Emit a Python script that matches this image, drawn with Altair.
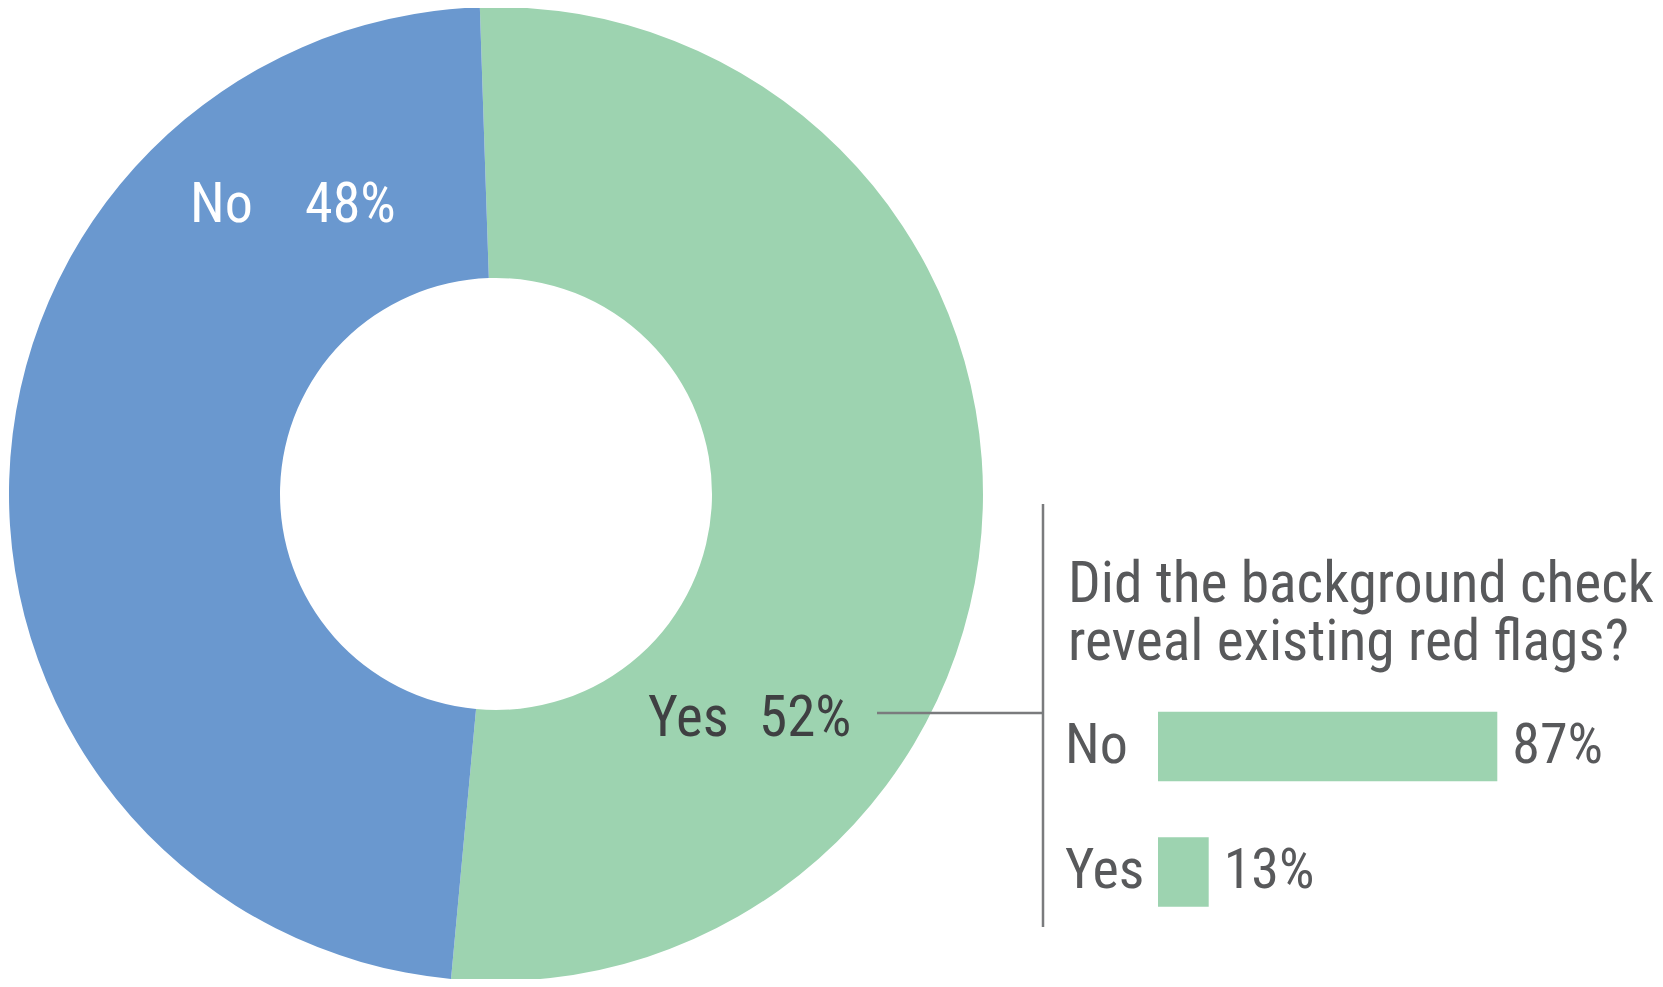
import math
import altair as alt
import pandas as pd

# ---- data ----
donut_labels = ["Yes", "No"]
donut_values = [52, 48]
donut_order = [0, 1]
bar_labels = ["No", "Yes"]
bar_values = [87, 13]
title_lines = ["Did the background check", "reveal existing red flags?"]

GREEN = "#9dd3b0"
BLUE = "#6a98cf"
DARK = "#3f4042"
GRAY = "#58595b"
RULE = "#7a7b7d"
FONT = "Liberation Sans Narrow, Roboto Condensed, Roboto, sans-serif"

W, H = 1647, 971
CX, CY = 488, 486
START = 2 * math.pi - 0.0332

donut_df = pd.DataFrame({"answer": donut_labels, "pct": donut_values, "ord": donut_order})
bar_df = pd.DataFrame({"answer": bar_labels, "pct": bar_values})
one = pd.DataFrame({"k": [0]})

donut = alt.Chart(donut_df).mark_arc(outerRadius=487, innerRadius=216).encode(
    theta=alt.Theta("pct:Q", stack=True,
                    scale=alt.Scale(range=[START, START + 2 * math.pi])),
    color=alt.Color("answer:N",
                    scale=alt.Scale(domain=["Yes", "No"], range=[GREEN, BLUE]),
                    legend=None),
    order=alt.Order("ord:Q"),
    x=alt.value(CX),
    y=alt.value(CY),
)


def donut_label(answer, word_x, pct_x, y, color, size=56):
    base = alt.Chart(donut_df).transform_filter(alt.datum.answer == answer)
    word = base.mark_text(align="left", baseline="alphabetic", font=FONT,
                          fontSize=size, color=color).encode(
        text="answer:N", x=alt.value(word_x), y=alt.value(y))
    pct = base.transform_calculate(lbl="datum.pct + '%'").mark_text(
        align="left", baseline="alphabetic", font=FONT, fontSize=size,
        color=color).encode(text="lbl:N", x=alt.value(pct_x), y=alt.value(y))
    return word + pct


no_lbl = donut_label("No", 182, 297, 214, "white")
yes_lbl = donut_label("Yes", 640, 751, 728, DARK, 57)

hrule = alt.Chart(one).mark_rule(color=RULE, strokeWidth=2.5).encode(
    x=alt.value(869), x2=alt.value(1035), y=alt.value(705))
vrule = alt.Chart(one).mark_rule(color=RULE, strokeWidth=2.5).encode(
    x=alt.value(1035), y=alt.value(496), y2=alt.value(919))

title = alt.Chart(one).mark_text(
    align="left", baseline="alphabetic", font=FONT, fontSize=57.5,
    lineHeight=58, color=GRAY).encode(
    text=alt.value(title_lines), x=alt.value(1060), y=alt.value(594))

xscale = alt.Scale(domain=[0, 100], range=[1150, 1540])
yscale = alt.Scale(domain=bar_labels, range=[675.75, 926.75],
                   paddingInner=0.446, paddingOuter=0.223)

bar_base = alt.Chart(bar_df)
bars = bar_base.mark_bar(color=GREEN).encode(
    x=alt.X("pct:Q", scale=xscale, axis=None),
    y=alt.Y("answer:N", scale=yscale, axis=None, sort=bar_labels),
)
bar_vals = bar_base.transform_calculate(lbl="datum.pct + '%'").mark_text(
    align="left", baseline="alphabetic", dx=15, dy=16, font=FONT,
    fontSize=56, color=GRAY).encode(
    x=alt.X("pct:Q", scale=xscale, axis=None),
    y=alt.Y("answer:N", scale=yscale, axis=None, sort=bar_labels),
    text="lbl:N",
)
bar_cats = bar_base.mark_text(
    align="left", baseline="alphabetic", dy=16, font=FONT, fontSize=56,
    color=GRAY).encode(
    x=alt.value(1057),
    y=alt.Y("answer:N", scale=yscale, axis=None, sort=bar_labels),
    text="answer:N",
)

chart = alt.layer(
    donut, no_lbl, yes_lbl, hrule, vrule, title, bars, bar_vals, bar_cats
).properties(
    width=W, height=H, autosize=alt.AutoSizeParams(type="none"), padding=0,
    background="white",
).configure_view(strokeOpacity=0)

chart.save("out.html", embed_options={"renderer": "svg", "actions": False})
